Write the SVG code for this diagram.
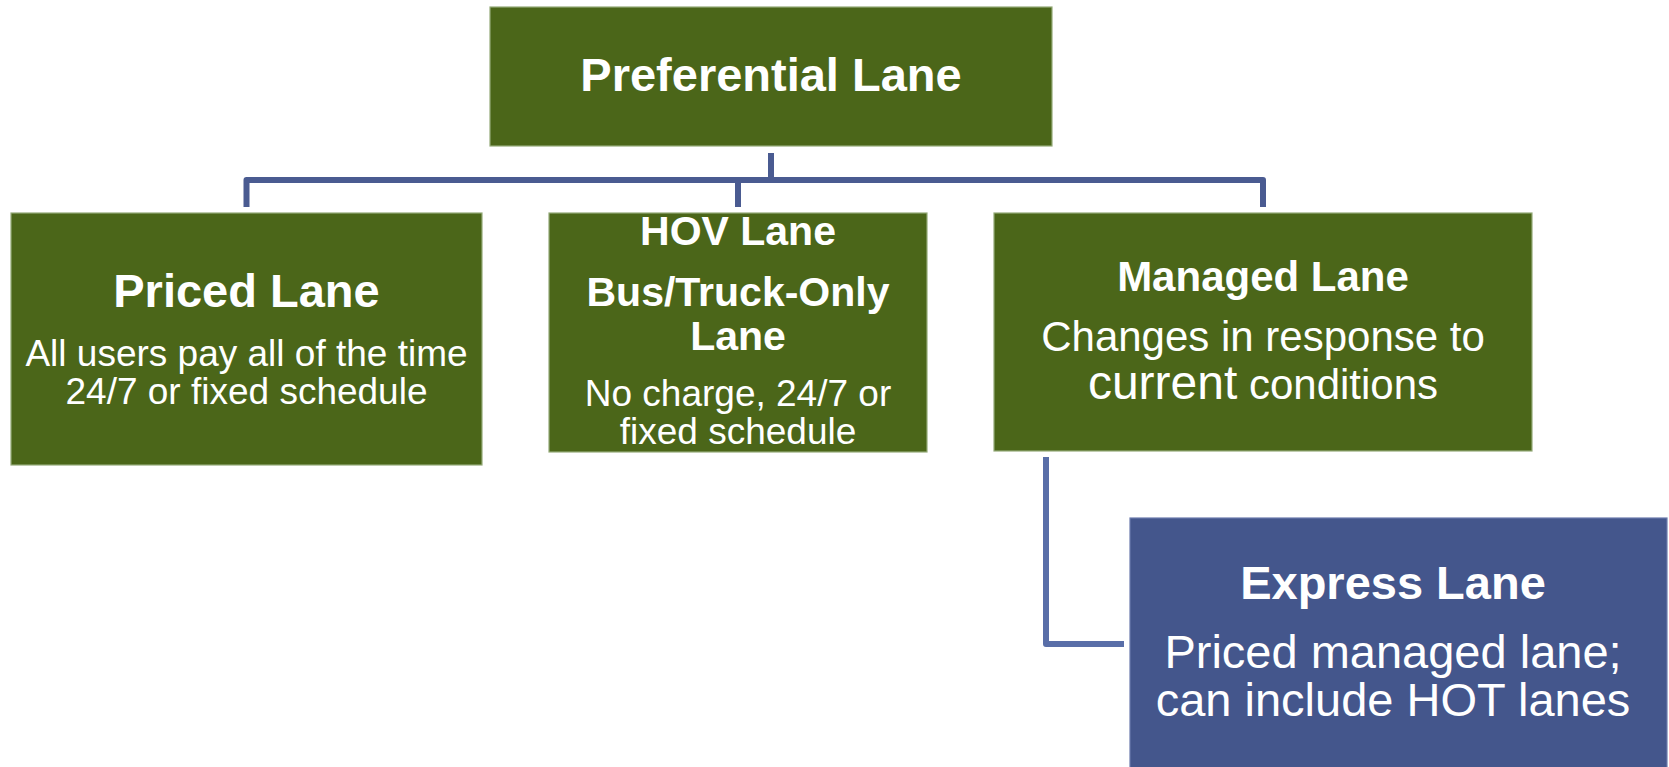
<svg xmlns="http://www.w3.org/2000/svg" width="1669" height="767" viewBox="0 0 1669 767">
  <style>
    .g { fill: #4b6619; stroke: #94aa78; stroke-width: 1.2; }
    .b { fill: #44568c; stroke: #6a7aac; stroke-width: 1.2; }
    .t { font-family: "Liberation Sans", Arial, sans-serif; fill: #ffffff; text-anchor: middle; }
    .bold { font-weight: bold; }
    .conn { fill: none; stroke: #4a5b91; stroke-width: 6; stroke-linejoin: round; }
    .conn2 { fill: none; stroke: #596ea8; stroke-width: 6; stroke-linejoin: round; }
  </style>
  <rect width="1669" height="767" fill="#ffffff"/>
  <g id="connectors">
    <path class="conn" d="M771,153 V180"/>
    <path class="conn" d="M246.5,207 V180 H1263 V207"/>
    <path class="conn" d="M738,180 V207"/>
    <path class="conn2" d="M1046,457 V644 H1124"/>
  </g>
  <g id="preferential">
    <rect class="g" x="490" y="7" width="562" height="139"/>
    <text class="t bold" x="771" y="91" font-size="47">Preferential Lane</text>
  </g>
  <g id="priced">
    <rect class="g" x="11" y="213" width="471" height="252"/>
    <text class="t bold" x="246.5" y="307" font-size="47">Priced Lane</text>
    <text class="t" x="246.5" y="366" font-size="37">All users pay all of the time</text>
    <text class="t" x="246.5" y="404" font-size="37">24/7 or fixed schedule</text>
  </g>
  <g id="hov">
    <rect class="g" x="549" y="213" width="378" height="239"/>
    <text class="t bold" x="738" y="245" font-size="41">HOV Lane</text>
    <text class="t bold" x="738" y="306" font-size="41">Bus/Truck-Only</text>
    <text class="t bold" x="738" y="350" font-size="41">Lane</text>
    <text class="t" x="738" y="406" font-size="37">No charge, 24/7 or</text>
    <text class="t" x="738" y="444" font-size="37">fixed schedule</text>
  </g>
  <g id="managed">
    <rect class="g" x="994" y="213" width="538" height="238"/>
    <text class="t bold" x="1263" y="291" font-size="42">Managed Lane</text>
    <text class="t" x="1263" y="351" font-size="42">Changes in response to</text>
    <text class="t" x="1263" y="399" font-size="42"><tspan font-size="48">current</tspan> conditions</text>
  </g>
  <g id="express">
    <rect class="b" x="1130" y="518" width="537" height="252"/>
    <text class="t bold" x="1393" y="599" font-size="47">Express Lane</text>
    <text class="t" x="1393" y="668" font-size="47">Priced managed lane;</text>
    <text class="t" x="1393" y="716" font-size="47">can include HOT lanes</text>
  </g>
</svg>
